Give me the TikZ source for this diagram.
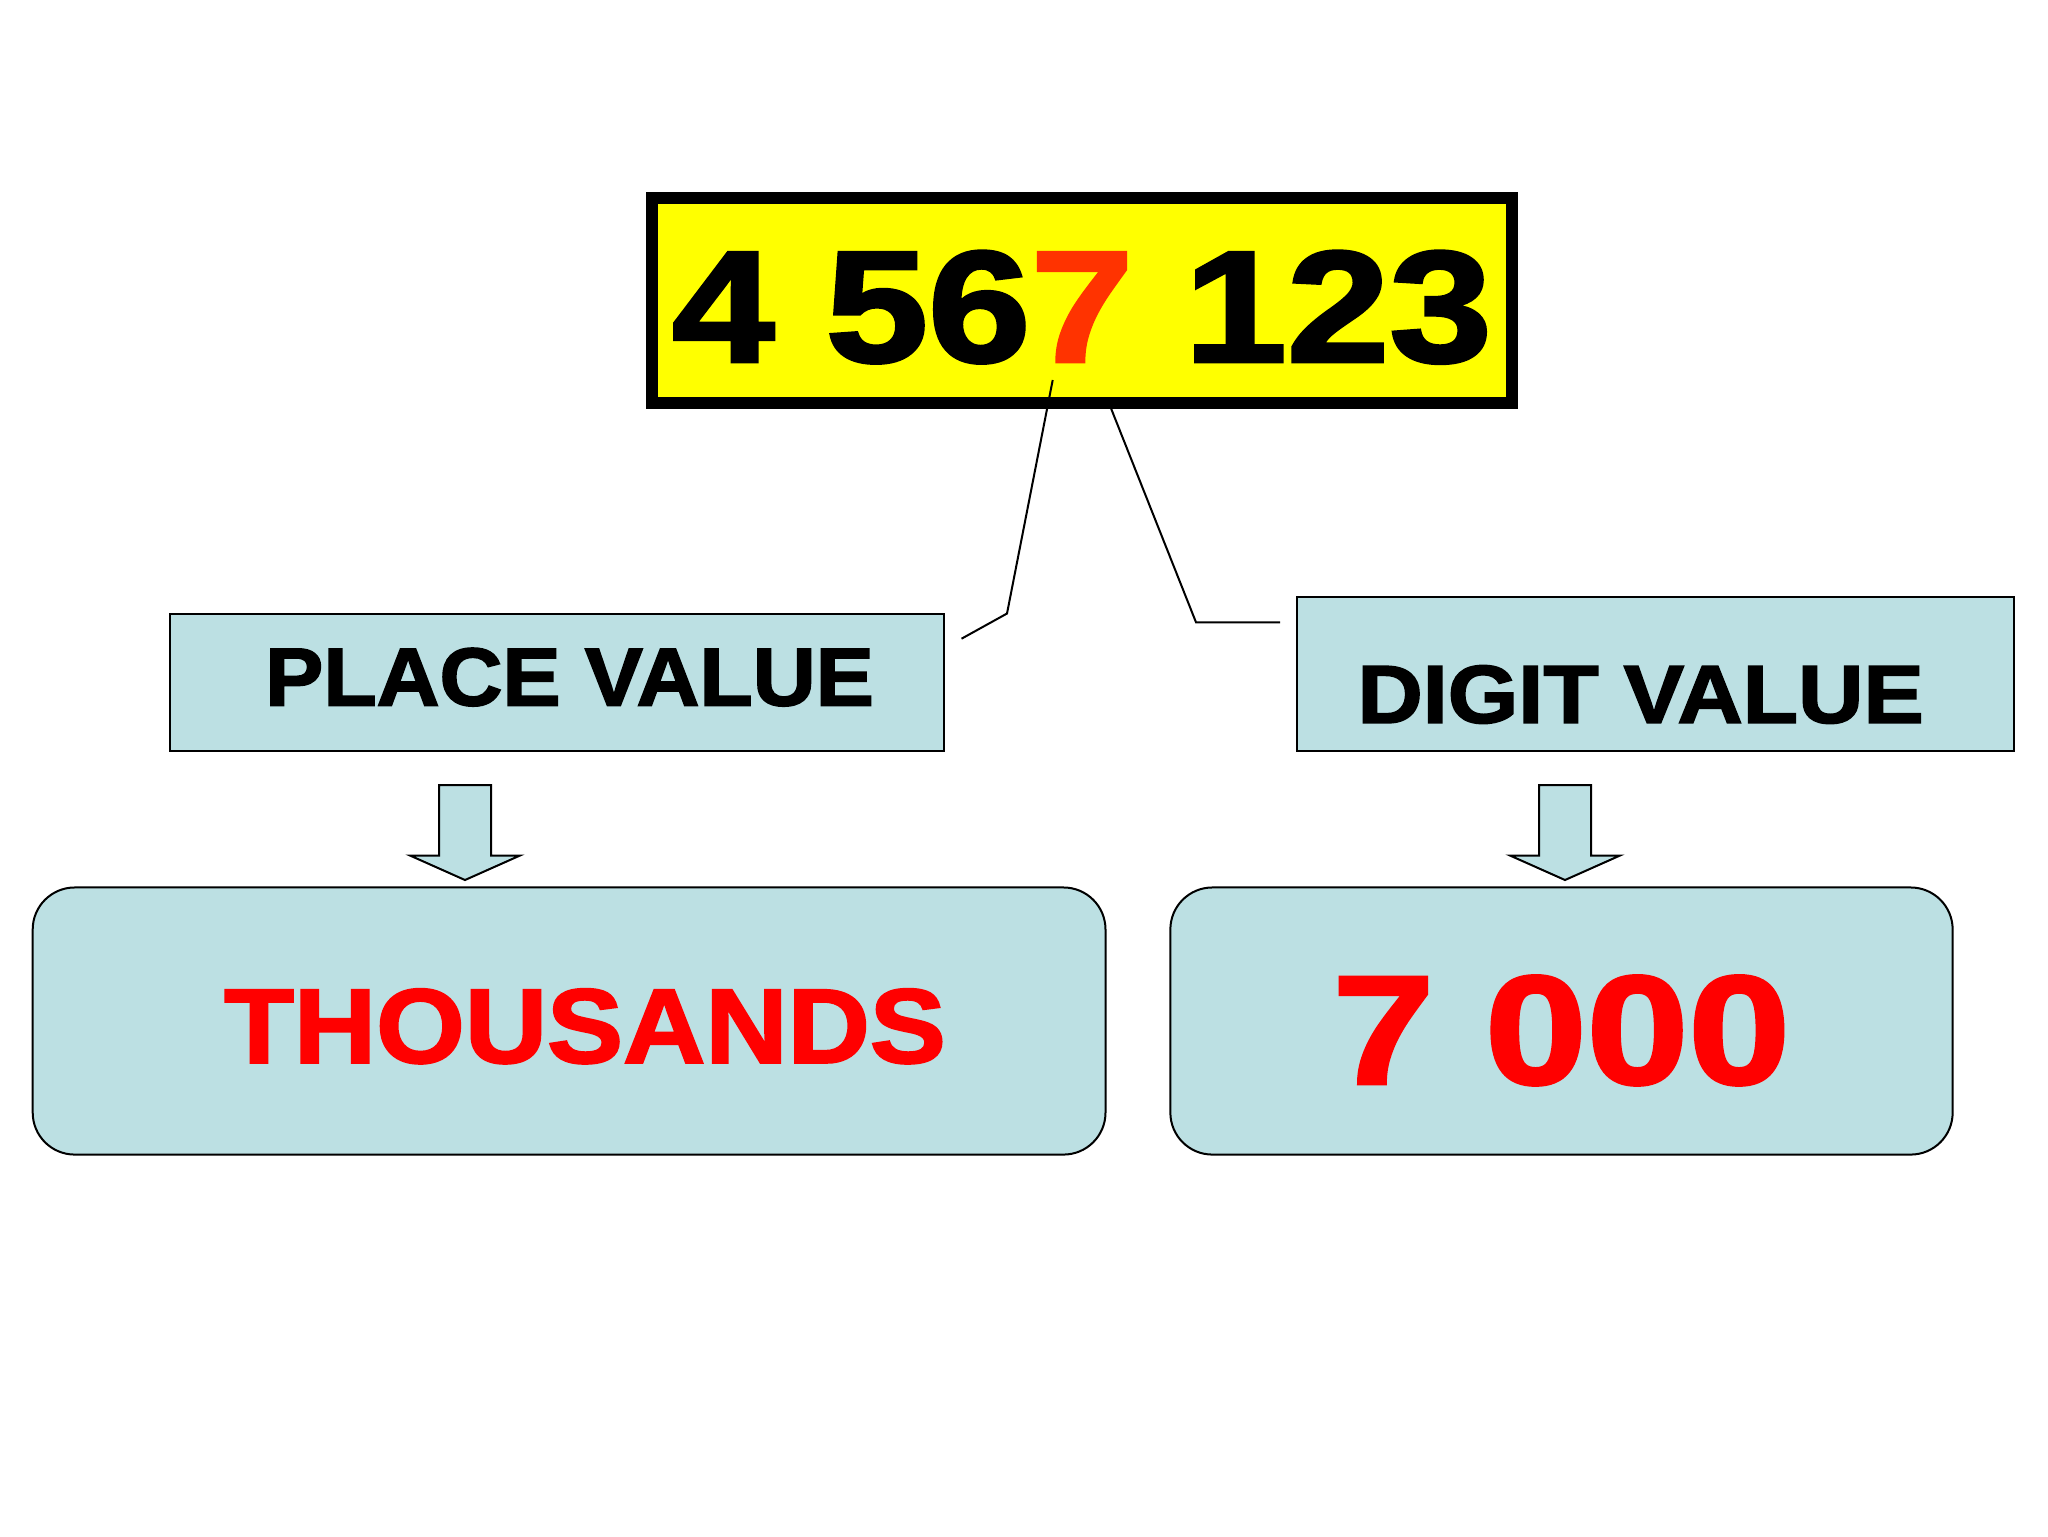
\documentclass[tikz,border=0pt]{standalone}
\usepackage{fontspec}
\usepackage{tikz}
\newfontfamily\heavyfont[FakeBold=2]{Liberation Sans Bold}
\definecolor{boxblue}{RGB}{188,224,227}
\definecolor{numyellow}{RGB}{255,255,0}
\definecolor{numred}{RGB}{255,51,0}
\definecolor{valred}{RGB}{255,0,0}

\begin{document}
\begin{tikzpicture}[x=0.1mm, y=-0.1mm]
    \tikzset{
        numbox/.style    =   { rectangle
                             , draw=black
                             , fill=numyellow
                             , line width=1.2mm
                             , inner sep=0pt
                             , text centered
                             , font=\heavyfont\fontsize{45.2}{50}\selectfont
        }
        , headbox/.style =   { rectangle
                             , draw=black
                             , fill=boxblue
                             , line width=0.2mm
                             , inner sep=0pt
                             , text centered
                             , font=\heavyfont\fontsize{23.4}{26}\selectfont
        }
        , valbox/.style  =   { rectangle
                             , rounded corners=4.2mm
                             , draw=black
                             , fill=boxblue
                             , line width=0.2mm
                             , inner sep=0pt
                             , text centered
                             , text=valred
        }
        , callout/.style =   { line width=0.2mm
        }
        , blockarrow/.style = { draw=black
                             , fill=boxblue
                             , line width=0.2mm
                             , line join=miter
        }
    }
    \fill[white] (0,0) rectangle (2048,1536);
    \useasboundingbox (0,0) rectangle (2048,1536);

    % the number
    \node(number)[numbox, minimum width=86mm, minimum height=20.55mm, text height=12.3mm, text depth=0pt]
        at (1082,300.3) {\scalebox{1.16}[1]{4 56{\color{numred}7} 123}};

    % headings
    \node(place)[headbox, minimum width=77.45mm, minimum height=13.71mm, text height=4.6mm, text depth=0pt]
        at (557,682.4) {\hspace*{2.5mm}\scalebox{1.06}[1]{PLACE VALUE}};
    \node(digit)[headbox, minimum width=71.7mm, minimum height=15.4mm, text height=9.76mm, text depth=0pt]
        at (1655.5,674) {\scalebox{1.10}[1]{DIGIT VALUE}\hspace*{3mm}};

    % values
    \node(thousands)[valbox, minimum width=107.28mm, minimum height=26.71mm, text height=8.34mm, text depth=0pt
        , font=\heavyfont\fontsize{30.1}{34}\selectfont]
        at (569.1,1021) {\hspace*{3.2mm}\scalebox{1.077}[1]{THOUSANDS}};
    \node(sevenk)[valbox, minimum width=78.23mm, minimum height=26.71mm, text height=12.56mm, text depth=0pt
        , font=\heavyfont\fontsize{44.1}{48}\selectfont]
        at (1561.5,1021) {\scalebox{1.18}[1]{7 000}};

    % callout lines
    \coordinate(c1a) at (1052.7,380);
    \coordinate(c1b) at (1007,613.5);
    \coordinate(c1c) at (961.5,638.7);
    \coordinate(c2a) at (1111,408.3);
    \coordinate(c2b) at (1196,622.3);
    \coordinate(c2c) at (1280,622.3);

    \draw[callout] (c1a) -- (c1b) -- (c1c);
    \draw[callout] (c2a) -- (c2b) -- (c2c);

    % down arrows
    \foreach \tipx in {465,1565}
        \draw[blockarrow] (\tipx,880) -- ++(-55,-24.5) -- ++(29,0) -- ++(0,-70.5)
            -- ++(52,0) -- ++(0,70.5) -- ++(29,0) -- cycle;
\end{tikzpicture}
\end{document}
